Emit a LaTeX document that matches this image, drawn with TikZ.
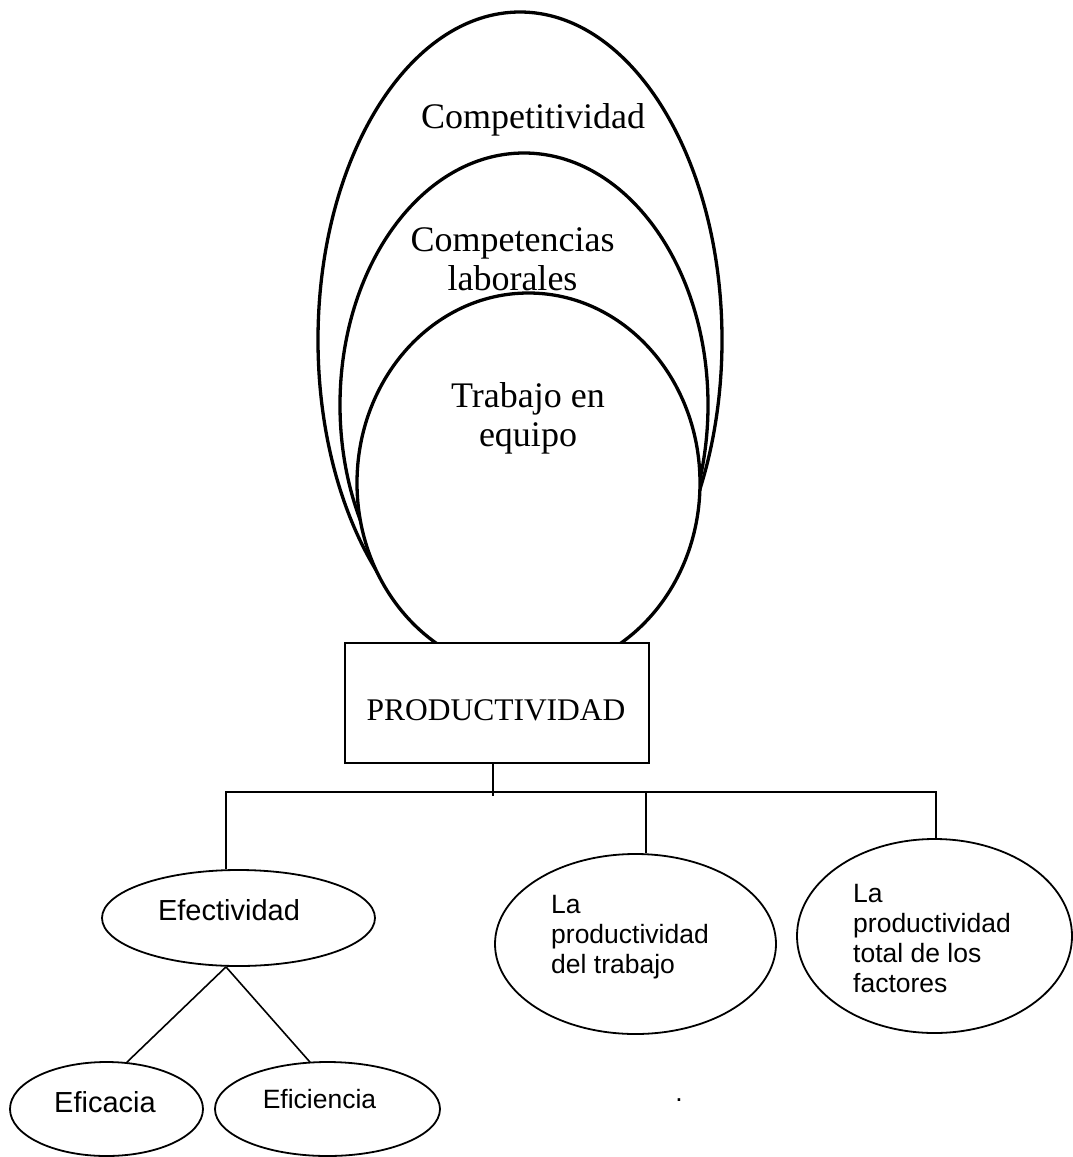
\documentclass[tikz,border=0pt]{standalone}
\usepackage{fontspec}
\setmainfont{Liberation Serif}
\newfontfamily\arialf{Liberation Sans}
\usetikzlibrary{shapes.geometric}

\tikzset{
  bigell/.style={ellipse, draw, fill=white, line width=3.3pt, inner sep=0pt},
  smallell/.style={ellipse, draw, fill=white, line width=1.8pt, inner sep=0pt},
  serif/.style={inner sep=0pt, font=\fontsize{36}{39}\selectfont, align=center},
  sanstxt/.style={inner sep=0pt, font=\arialf\fontsize{26.5}{30}\selectfont, align=left},
  conn/.style={line width=1.6pt},
  prodbox/.style={draw, fill=white, line width=2pt, minimum width=304pt, minimum height=120pt, inner sep=0pt}
}

\begin{document}
\begin{tikzpicture}[x=1pt, y=-1pt]
  \fill[white] (0,0) rectangle (1072,1157);
  \useasboundingbox (0,0) rectangle (1072,1157);

  % nested ellipses, outermost first so the inner ones cover it
  \node[bigell, minimum width=404pt, minimum height=656pt] (comp) at (520,340) {};
  \node[bigell, minimum width=368pt, minimum height=504pt] (compet) at (524,405) {};
  \node[bigell, minimum width=343pt, minimum height=380pt] (trab) at (528.5,483) {};

  % labels: the base anchor of a multi-line node sits on its last line
  \node[serif, anchor=base] (comptxt) at (533,128) {Competitividad};
  \node[serif, anchor=base] (compettxt) at (512.5,290) {Competencias\\laborales};
  \node[serif, anchor=base] (trabtxt) at (528,446) {Trabajo en\\equipo};

  % central box
  \node[prodbox] (prod) at (497,703) {};
  \node[inner sep=0pt, font=\fontsize{31.5}{33}\selectfont, anchor=base] (prodtxt) at (496,720.7) {PRODUCTIVIDAD};

  % second level
  \node[smallell, minimum width=273pt, minimum height=96pt] (efec) at (238.5,918) {};
  \node[smallell, minimum width=281pt, minimum height=180pt] (ptr) at (635.5,944) {};
  \node[smallell, minimum width=275pt, minimum height=194pt] (ptf) at (934.5,936) {};

  \node[sanstxt, font=\arialf\fontsize{29}{30}\selectfont, anchor=base] (efectxt) at (229,920) {Efectividad};
  \node[sanstxt, anchor=base west] (ptrtxt) at (551,973) {La\\productividad\\del trabajo};
  \node[sanstxt, anchor=base west] (ptftxt) at (853,992) {La\\productividad\\total de los\\factores};

  % third level
  \node[smallell, minimum width=193pt, minimum height=94pt] (efica) at (106.5,1109) {};
  \node[smallell, minimum width=225pt, minimum height=94pt] (efici) at (327.5,1109) {};
  \node[sanstxt, font=\arialf\fontsize{29}{30}\selectfont, anchor=base] (eficatxt) at (105,1112) {Eficacia};
  \node[sanstxt, font=\arialf\fontsize{26.5}{30}\selectfont, anchor=base] (efictxt) at (319.5,1108) {Eficiencia};

  \node[sanstxt, anchor=base] (dot) at (679,1101) {.};

  % connectors
  \coordinate (bar) at (0,792);
  \coordinate (hub) at (493,796);
  \draw[conn] (prod.south -| hub) -- (hub);
  \draw[conn] ([xshift=-12.5pt]efec.north) -- ([xshift=-12.5pt]efec.north |- bar)
              -- ([xshift=1.5pt]ptf.north |- bar) -- ([xshift=1.5pt]ptf.north);
  \draw[conn] ([xshift=10.5pt]ptr.north) -- ([xshift=10.5pt]ptr.north |- bar);
  \draw[conn] ([xshift=-12.5pt]efec.south) -- ([xshift=20.5pt,yshift=-1pt]efica.north);
  \draw[conn] ([xshift=-12.5pt]efec.south) -- ([xshift=-17.5pt,yshift=-1pt]efici.north);
\end{tikzpicture}
\end{document}
